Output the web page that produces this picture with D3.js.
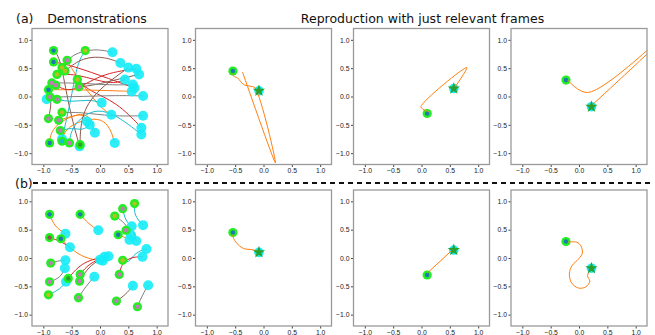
<!DOCTYPE html>
<html>
<head>
<meta charset="utf-8">
<script src="https://cdn.jsdelivr.net/npm/d3@7"></script>
<style>
  body { margin: 0; background: white; }
  svg { font-family: "DejaVu Sans", sans-serif; }
  .axis text { fill: #222; font-size: 6.8px; }
  .axis line { stroke: #444; }
  .axis path { display: none; }
  .frame { fill: none; stroke: #9a9a9a; stroke-width: 1.3; }
  .title { fill: #111; font-size: 12.5px; }
</style>
</head>
<body>
<div id="chart"></div>
<script>
// Ticks shared by every panel
const ticks = [-1, -0.5, 0, 0.5, 1];

// (a) demonstrations: waypoints of each trajectory, its line colour and the inner dot colour of its start
const demosA = [
  [[-0.82, 0.81], [-0.70, 0.70], [-0.55, -0.20], [-0.36, -0.88]],
  [[-0.26, 0.81], [-0.40, 0.60], [-0.50, 0.00], [-0.67, -0.75]],
  [[-0.82, 0.61], [-0.50, 0.55], [0.20, 0.30], [0.61, 0.15]],
  [[-0.58, 0.64], [-0.45, 0.40], [0.00, -0.20], [0.20, -0.32]],
  [[-0.67, 0.51], [-0.50, 0.75], [-0.10, 0.85], [0.22, 0.78]],
  [[-0.76, 0.39], [-0.40, 0.40], [0.20, 0.20], [0.44, 0.30]],
  [[-0.40, 0.30], [-0.20, 0.10], [0.30, -0.10], [0.73, -0.55]],
  [[-0.37, 0.17], [-0.10, 0.20], [0.30, 0.30], [0.69, 0.39]],
  [[-0.85, 0.24], [-0.40, 0.24], [0.20, 0.20], [0.58, 0.21]],
  [[-0.91, 0.12], [-0.40, 0.12], [0.30, 0.10], [0.56, 0.09]],
  [[-0.88, -0.01], [-0.30, 0.00], [0.30, 0.02], [0.76, 0.01]],
  [[-0.76, -0.05], [-0.50, -0.10], [-0.20, -0.05], [0.03, -0.11]],
  [[-0.67, -0.28], [-0.30, -0.28], [0.20, -0.35], [0.76, -0.34]],
  [[-0.73, -0.42], [-0.50, -0.35], [-0.30, -0.30], [-0.23, -0.44]],
  [[-0.91, -0.39], [-0.85, -0.10], [-0.90, 0.00], [-0.94, -0.05]],
  [[-0.89, -0.82], [-0.85, -0.50], [-0.20, -0.20], [-0.09, -0.64]],
  [[-0.67, -0.79], [-0.60, -0.50], [0.10, -0.30], [0.26, -0.82]],
  [[-0.54, -0.82], [-0.50, -0.50], [0.00, -0.10], [0.73, -0.67]],
  [[-0.35, -0.85], [-0.35, -0.50], [-0.20, 0.00], [0.50, 0.51]],
  [[-0.78, 0.20], [-0.50, 0.05], [0.00, 0.40], [0.64, 0.49]],
  [[-0.62, 0.45], [-0.30, 0.70], [0.10, 0.70], [0.36, 0.59]],
  [[-0.70, -0.60], [-0.50, -0.55], [-0.30, -0.60], [-0.18, -0.50]]
];
const demosALine = ["brown", "cyan", "red", "orange", "gray", "red", "red", "brown", "gray", "orange", "gray",
  "cyan", "gray", "orange", "brown", "orange", "orange", "cyan", "brown", "red", "brown", "cyan"];
const demosADot = ["blue", "olive", "blue", "pink", "olive", "olive", "olive", "pink", "pink", "blue", "pink",
  "pink", "olive", "pink", "pink", "blue", "cyan", "pink", "green", "pink", "olive", "pink"];

// (b) demonstrations
const demosB = [
  [[-0.89, 0.77], [-0.80, 0.55], [-0.61, 0.43]],
  [[-0.35, 0.77], [-0.20, 0.60], [-0.03, 0.49]],
  [[-0.89, 0.36], [-0.70, 0.30], [-0.53, 0.19]],
  [[-0.69, 0.34], [-0.45, 0.10], [-0.20, -0.02], [0.05, -0.05]],
  [[-0.87, -0.09], [-0.75, -0.05], [-0.61, -0.04]],
  [[-0.89, -0.42], [-0.70, -0.35], [-0.62, -0.18]],
  [[-0.91, -0.65], [-0.70, -0.55], [-0.60, -0.42]],
  [[-0.56, -0.36], [-0.30, -0.05], [0.15, 0.03]],
  [[-0.35, -0.29], [-0.20, -0.10], [0.08, 0.02]],
  [[-0.36, -0.41], [-0.20, -0.15], [0.00, -0.03]],
  [[-0.38, -0.70], [-0.25, -0.50], [-0.10, -0.33]],
  [[0.26, 0.74], [0.45, 0.62], [0.55, 0.40]],
  [[0.40, 0.87], [0.45, 0.65], [0.56, 0.56]],
  [[0.61, 0.96], [0.60, 0.75], [0.76, 0.58]],
  [[0.46, 0.49], [0.58, 0.55], [0.64, 0.30]],
  [[0.32, 0.41], [0.45, 0.36], [0.52, 0.32]],
  [[0.40, -0.04], [0.50, -0.10], [0.62, 0.10], [0.82, 0.16]],
  [[0.34, -0.29], [0.38, -0.10], [0.55, 0.02], [0.75, 0.02]],
  [[0.29, -0.76], [0.45, -0.65], [0.58, -0.49]],
  [[0.66, -0.86], [0.75, -0.65], [0.85, -0.48]]
];
const demosBLine = ["orange", "orange", "red", "orange", "gray", "gray", "cyan", "red", "red", "brown", "gray",
  "gray", "cyan", "cyan", "brown", "orange", "cyan", "red", "brown", "gray"];
const demosBDot = ["blue", "blue", "brown", "blue", "pink", "pink", "olive", "green", "pink", "pink", "pink",
  "olive", "pink", "olive", "pink", "blue", "olive", "pink", "pink", "pink"];

// Reproductions: start frame, end frame and reproduced path per column
const repStart = [[-0.54, 0.45], [0.10, -0.30], [-0.23, 0.29]];
const repEnd = [[-0.08, 0.10], [0.57, 0.14], [0.22, -0.18]];
const repPathA = [
  [[-0.54, 0.41], [-0.53, 0.36], [-0.46, 0.33], [-0.40, 0.26], [-0.33, 0.20], [-0.22, 0.18], [-0.15, 0.15], [0.21, -1.17], [-0.37, 0.43]],
  [[0.13, -0.27], [0.02, -0.22], [-0.01, -0.18], [0.80, 0.51], [0.58, 0.15]],
  [[-0.20, 0.29], [0.15, 0.07], [1.63, 1.18], [0.22, -0.16]]
];
const repPathB = [
  [[-0.55, 0.41], [-0.51, 0.31], [-0.42, 0.21], [-0.33, 0.16], [-0.22, 0.15], [-0.10, 0.12]],
  [[0.12, -0.25], [0.52, 0.12]],
  [[-0.19, 0.28], [-0.04, 0.28], [0.03, 0.22], [0.06, 0.09], [-0.01, -0.02], [-0.12, -0.13], [-0.17, -0.28],
   [-0.13, -0.44], [-0.01, -0.53], [0.12, -0.51], [0.19, -0.41], [0.15, -0.31], [0.20, -0.21]]
];

const palette = {
  blue: "#1f77b4", orange: "#ff7f0e", green: "#2ca02c", red: "#d62728", brown: "#8c564b",
  pink: "#c27bb8", gray: "#7f7f7f", olive: "#bcbd22", cyan: "#17becf"
};
const startFill = "#22ee22", endFill = "#14ecf8";

const W = 655, H = 335, size = 136;
const colLeft = [32, 195.5, 353.5, 511];
const rowTop = [28.5, 190];

const svg = d3.select("#chart").append("svg").attr("width", W).attr("height", H);

const x = d3.scaleLinear().domain([-1.2, 1.2]).range([0, size]);
const y = d3.scaleLinear().domain([-1.2, 1.2]).range([size, 0]);
const fmt = d3.format(".1f");

function panel(row, col) {
  const g = svg.append("g").attr("transform", `translate(${colLeft[col]},${rowTop[row]})`);
  const id = `clip-${row}-${col}`;
  g.append("clipPath").attr("id", id).append("rect").attr("width", size).attr("height", size);
  g.append("g").attr("class", "axis").attr("transform", `translate(0,${size})`)
    .call(d3.axisBottom(x).tickValues(ticks).tickFormat(fmt).tickSize(2.5).tickPadding(1.5));
  g.append("g").attr("class", "axis")
    .call(d3.axisLeft(y).tickValues(ticks).tickFormat(fmt).tickSize(2.5).tickPadding(1.5));
  const plot = g.append("g").attr("clip-path", `url(#${id})`);
  g.append("rect").attr("class", "frame").attr("width", size).attr("height", size);
  return plot;
}

const smooth = d3.line().x(d => x(d[0])).y(d => y(d[1])).curve(d3.curveBasis);
const through = d3.line().x(d => x(d[0])).y(d => y(d[1])).curve(d3.curveCatmullRom);
const star = d3.symbol().type(d3.symbolStar).size(48);

function demoPanel(row, paths, lineCols, dotCols) {
  const plot = panel(row, 0);
  plot.selectAll(".demo").data(paths).enter().append("path")
    .attr("d", smooth).attr("fill", "none").attr("stroke-width", 1)
    .attr("stroke", (d, i) => palette[lineCols[i]]);
  plot.selectAll(".end").data(paths).enter().append("circle")
    .attr("cx", d => x(d[d.length - 1][0])).attr("cy", d => y(d[d.length - 1][1]))
    .attr("r", 5).attr("fill", endFill).attr("fill-opacity", 0.9);
  plot.selectAll(".start").data(paths).enter().append("circle")
    .attr("cx", d => x(d[0][0])).attr("cy", d => y(d[0][1]))
    .attr("r", 4.6).attr("fill", startFill);
  plot.selectAll(".dot").data(paths).enter().append("circle")
    .attr("cx", d => x(d[0][0])).attr("cy", d => y(d[0][1]))
    .attr("r", 2.2).attr("fill", (d, i) => palette[dotCols[i]]);
}

function repPanel(row, col, path) {
  const plot = panel(row, col);
  const s = repStart[col - 1], e = repEnd[col - 1];
  plot.append("circle").attr("cx", x(e[0])).attr("cy", y(e[1])).attr("r", 4.8).attr("fill", endFill);
  plot.append("circle").attr("cx", x(s[0])).attr("cy", y(s[1])).attr("r", 4.6).attr("fill", startFill);
  plot.append("circle").attr("cx", x(s[0])).attr("cy", y(s[1])).attr("r", 2.2).attr("fill", palette.blue);
  plot.append("path").datum(path).attr("d", through)
    .attr("fill", "none").attr("stroke", palette.orange).attr("stroke-width", 1);
  plot.append("path").attr("d", star)
    .attr("transform", `translate(${x(e[0])},${y(e[1])})`).attr("fill", palette.green);
}

demoPanel(0, demosA, demosALine, demosADot);
demoPanel(1, demosB, demosBLine, demosBDot);
[1, 2, 3].forEach(c => {
  repPanel(0, c, repPathA[c - 1]);
  repPanel(1, c, repPathB[c - 1]);
});

// Titles and the dashed separator
svg.append("text").attr("class", "title").attr("x", 16).attr("y", 23).text("(a)");
svg.append("text").attr("class", "title").attr("x", 97).attr("y", 23).attr("text-anchor", "middle").text("Demonstrations");
svg.append("text").attr("class", "title").attr("x", 422.5).attr("y", 23).attr("text-anchor", "middle")
  .text("Reproduction with just relevant frames");
svg.append("text").attr("class", "title").attr("x", 15).attr("y", 188).text("(b)");
svg.append("line").attr("x1", 33).attr("x2", 651).attr("y1", 183).attr("y2", 183)
  .attr("stroke", "#111").attr("stroke-width", 2.2).attr("stroke-dasharray", "5,4");
</script>
</body>
</html>
